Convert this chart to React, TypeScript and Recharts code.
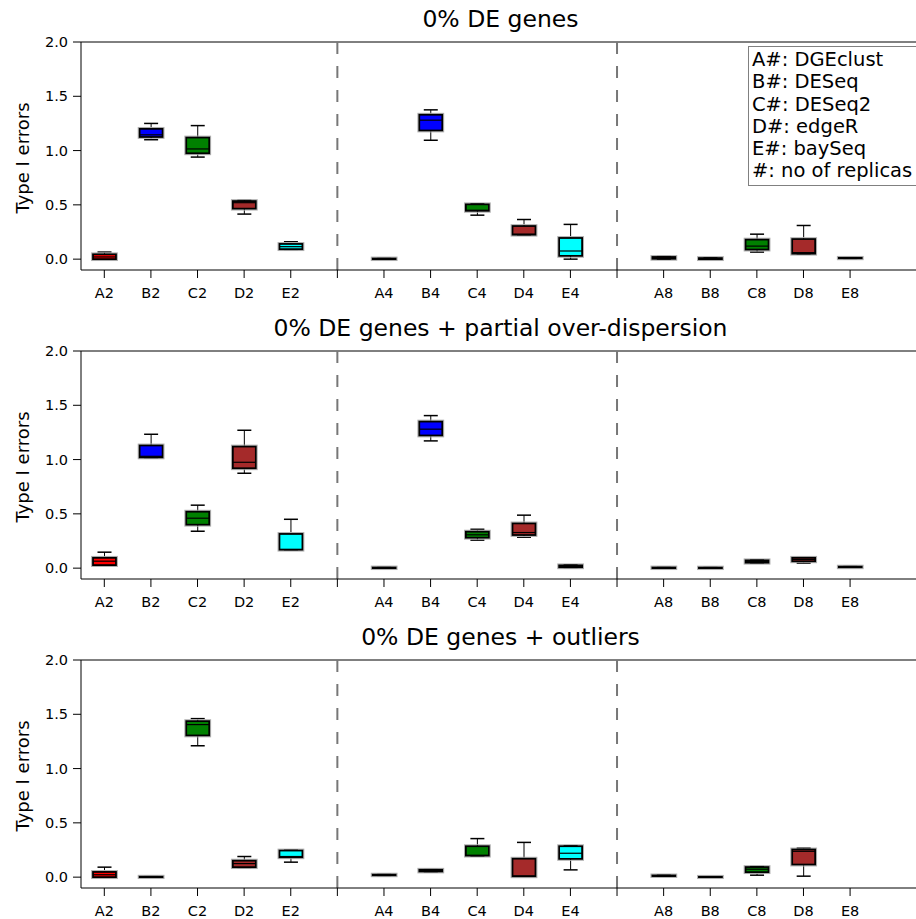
import React from 'react';
import { ComposedChart, Bar, XAxis, YAxis, ReferenceLine } from 'recharts';

// slot positions on the x axis (5 and 11 are the gaps with the dashed separators)
const slots = [0, 1, 2, 3, 4, 6, 7, 8, 9, 10, 12, 13, 14, 15, 16];
const tickLabels = ['A2', 'B2', 'C2', 'D2', 'E2', '', 'A4', 'B4', 'C4', 'D4', 'E4', '', 'A8', 'B8', 'C8', 'D8', 'E8'];
const methodColors = ['#ff0000', '#0000ff', '#008000', '#a52a2a', '#00ffff'];
const titles = ['0% DE genes', '0% DE genes + partial over-dispersion', '0% DE genes + outliers'];
const legendLines = ['A#: DGEclust', 'B#: DESeq', 'C#: DESeq2', 'D#: edgeR', 'E#: baySeq', '#: no of replicas'];

// order: A2 B2 C2 D2 E2 | A4 B4 C4 D4 E4 | A8 B8 C8 D8 E8
const p1Low = [0.0, 1.1, 0.94, 0.415, 0.085, 0.0, 1.095, 0.405, 0.225, 0.0, 0.0, 0.0, 0.065, 0.05, 0.005];
const p1Q1 = [0.0, 1.125, 0.975, 0.465, 0.092, 0.0, 1.185, 0.445, 0.225, 0.03, 0.003, 0.0, 0.088, 0.05, 0.008];
const p1Med = [0.02, 1.145, 1.015, 0.52, 0.115, 0.003, 1.28, 0.45, 0.23, 0.075, 0.01, 0.005, 0.12, 0.06, 0.01];
const p1Q3 = [0.045, 1.2, 1.12, 0.535, 0.14, 0.006, 1.33, 0.505, 0.305, 0.195, 0.02, 0.01, 0.18, 0.185, 0.012];
const p1High = [0.065, 1.25, 1.23, 0.545, 0.16, 0.006, 1.375, 0.51, 0.365, 0.32, 0.028, 0.012, 0.23, 0.31, 0.014];

const p2Low = [0.018, 1.018, 0.34, 0.874, 0.17, 0.0, 1.172, 0.258, 0.285, 0.005, 0.0, 0.0, 0.05, 0.046, 0.008];
const p2Q1 = [0.028, 1.02, 0.4, 0.92, 0.17, 0.0, 1.222, 0.28, 0.305, 0.008, 0.0, 0.0, 0.05, 0.063, 0.008];
const p2Med = [0.064, 1.03, 0.46, 0.975, 0.172, 0.003, 1.28, 0.307, 0.328, 0.015, 0.003, 0.002, 0.06, 0.08, 0.01];
const p2Q3 = [0.095, 1.13, 0.52, 1.12, 0.315, 0.006, 1.35, 0.336, 0.412, 0.026, 0.006, 0.005, 0.072, 0.095, 0.014];
const p2High = [0.147, 1.233, 0.58, 1.27, 0.45, 0.006, 1.405, 0.358, 0.488, 0.03, 0.006, 0.006, 0.075, 0.098, 0.015];

const p3Low = [0.0, 0.0, 1.21, 0.083, 0.138, 0.015, 0.05, 0.196, 0.008, 0.067, 0.008, 0.0, 0.018, 0.009, null];
const p3Q1 = [0.0, 0.0, 1.305, 0.092, 0.183, 0.017, 0.052, 0.198, 0.008, 0.168, 0.01, 0.0, 0.046, 0.116, null];
const p3Med = [0.022, 0.002, 1.405, 0.125, 0.19, 0.02, 0.06, 0.2, 0.01, 0.22, 0.012, 0.001, 0.073, 0.238, null];
const p3Q3 = [0.048, 0.004, 1.437, 0.152, 0.245, 0.023, 0.068, 0.285, 0.17, 0.285, 0.016, 0.003, 0.093, 0.255, null];
const p3High = [0.092, 0.005, 1.46, 0.19, 0.25, 0.025, 0.07, 0.355, 0.32, 0.29, 0.018, 0.004, 0.098, 0.268, null];

const panels = [
  [p1Low, p1Q1, p1Med, p1Q3, p1High],
  [p2Low, p2Q1, p2Med, p2Q3, p2High],
  [p3Low, p3Q1, p3Med, p3Q3, p3High],
];

const yTicks = [0, 0.5, 1.0, 1.5, 2.0];
const xTicks = tickLabels.map((_, i) => i);
const FONT = "'DejaVu Sans', sans-serif";

function buildRows(stats: (number | null)[][]) {
  const [lo, q1, med, q3, hi] = stats;
  const rows: any[] = [];
  slots.forEach((pos, i) => {
    if (lo[i] == null) return;
    rows.push({
      pos,
      color: methodColors[i % 5],
      lo: lo[i], q1: q1[i], med: med[i], q3: q3[i], hi: hi[i],
      range: [lo[i], hi[i]],
    });
  });
  return rows;
}

// the bar spans low..high whisker; the rest is placed from that pixel span
const BoxShape = (props: any) => {
  const { x, y, width, height, payload } = props;
  if (!payload) return null;
  const { lo, q1, med, q3, hi, color } = payload;
  const top = Math.min(y, y + height);
  const bot = Math.max(y, y + height);
  const k = hi > lo ? (bot - top) / (hi - lo) : 0;
  const py = (v: number) => top + (hi - v) * k;
  const cx = x + width / 2;
  const bw = 23;
  const cw = 14;
  const yq3 = py(q3);
  const yq1 = py(q1);
  return (
    <g>
      <line x1={cx} x2={cx} y1={py(hi)} y2={yq3} stroke="#000" strokeWidth={1} />
      <line x1={cx} x2={cx} y1={yq1} y2={py(lo)} stroke="#000" strokeWidth={1} />
      <line x1={cx - cw / 2} x2={cx + cw / 2} y1={py(hi)} y2={py(hi)} stroke="#000" strokeWidth={1.5} />
      <line x1={cx - cw / 2} x2={cx + cw / 2} y1={py(lo)} y2={py(lo)} stroke="#000" strokeWidth={1.5} />
      <rect x={cx - bw / 2 - 1.4} y={yq3 - 1.4} width={bw + 2.8} height={yq1 - yq3 + 2.8} fill="none" stroke="#b0b0b0" strokeWidth={1} />
      <rect x={cx - bw / 2} y={yq3} width={bw} height={yq1 - yq3} fill={color} stroke="#000" strokeWidth={1.8} />
      <line x1={cx - bw / 2} x2={cx + bw / 2} y1={py(med)} y2={py(med)} stroke="#000" strokeWidth={1.2} />
    </g>
  );
};

function Panel({ index, top }: { index: number; top: number }) {
  const rows = buildRows(panels[index]);
  return (
    <div style={{ position: 'absolute', left: 0, top, width: 924, height: 309 }}>
      <div
        style={{
          position: 'absolute', left: 81, width: 839, top: 8, textAlign: 'center',
          fontFamily: FONT, fontSize: 23.5, lineHeight: '23.5px', color: '#000', whiteSpace: 'nowrap',
        }}
      >
        {titles[index]}
      </div>
      <div
        style={{
          position: 'absolute', left: 22, top: 158, transform: 'translate(-50%, -50%) rotate(-90deg)',
          fontFamily: FONT, fontSize: 18, color: '#000', whiteSpace: 'nowrap',
        }}
      >
        Type I errors
      </div>
      <ComposedChart width={924} height={309} data={rows} margin={{ top: 42, right: 4, bottom: 9, left: 0 }}>
        <XAxis
          type="number"
          dataKey="pos"
          domain={[-0.5, 17.5]}
          ticks={xTicks}
          interval={0}
          tickFormatter={(v: number) => tickLabels[v] ?? ''}
          height={30}
          tickSize={8}
          tickMargin={10}
          axisLine={{ stroke: '#000' }}
          tickLine={{ stroke: '#000' }}
          tick={{ fill: '#000', fontSize: 14.5, fontFamily: FONT }}
        />
        <YAxis
          type="number"
          domain={[-0.1, 2]}
          ticks={yTicks}
          interval={0}
          tickFormatter={(v: number) => v.toFixed(1)}
          width={81}
          tickSize={8}
          tickMargin={5}
          axisLine={{ stroke: '#000' }}
          tickLine={{ stroke: '#000' }}
          tick={{ fill: '#000', fontSize: 14.5, fontFamily: FONT }}
        />
        <ReferenceLine y={2} stroke="#000" strokeWidth={1} />
        <ReferenceLine x={5} stroke="#777" strokeWidth={2} strokeDasharray="12 12" />
        <ReferenceLine x={11} stroke="#777" strokeWidth={2} strokeDasharray="12 12" />
        <Bar dataKey="range" barSize={23} shape={BoxShape} isAnimationActive={false} />
      </ComposedChart>
      {index === 0 && (
        <div
          style={{
            position: 'absolute', left: 748, top: 46, width: 190, padding: '2px 0 2px 3px',
            border: '1.5px solid #808080', background: '#fff',
            fontFamily: FONT, fontSize: 19.5, lineHeight: '22.3px', color: '#000', whiteSpace: 'nowrap',
          }}
        >
          {legendLines.map((t) => (
            <div key={t}>{t}</div>
          ))}
        </div>
      )}
    </div>
  );
}

export default function App() {
  return (
    <div style={{ position: 'absolute', left: 0, top: 0, width: 916, height: 919, overflow: 'hidden', background: '#fff' }}>
      <Panel index={0} top={0} />
      <Panel index={1} top={309} />
      <Panel index={2} top={618} />
    </div>
  );
}
